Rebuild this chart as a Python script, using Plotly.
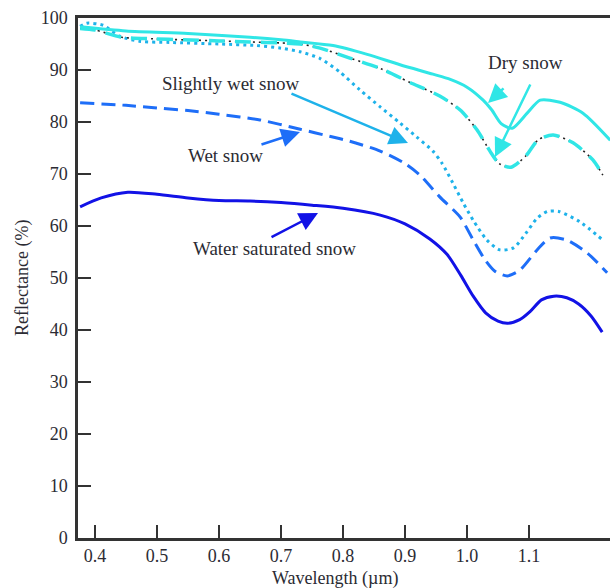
import plotly.graph_objects as go

# ---- data ----
wl_water = [0.376, 0.41, 0.453, 0.50, 0.55, 0.60, 0.65, 0.70, 0.75, 0.80, 0.86, 0.90,
            0.94, 0.968, 0.99, 1.01, 1.03, 1.05, 1.066, 1.085, 1.102, 1.12, 1.14,
            1.161, 1.18, 1.20, 1.218]
r_water = [63.7, 65.4, 66.5, 66.1, 65.4, 64.9, 64.8, 64.5, 64.0, 63.4, 62.1, 60.4,
           57.5, 54.5, 50.5, 46.5, 43.3, 41.7, 41.3, 42.0, 43.6, 45.8, 46.5,
           46.2, 45.0, 42.7, 39.6]

wl_wet = [0.376, 0.45, 0.50, 0.55, 0.60, 0.666, 0.731, 0.78, 0.811, 0.86, 0.90, 0.924,
          0.956, 0.989, 1.010, 1.029, 1.045, 1.065, 1.085, 1.113, 1.134, 1.161, 1.194, 1.226]
r_wet = [83.7, 83.2, 82.7, 82.2, 81.5, 80.4, 78.6, 77.2, 76.3, 74.4, 72.0, 69.8,
         65.6, 61.7, 57.3, 53.5, 51.3, 50.4, 51.5, 55.4, 57.7, 57.3, 54.8, 51.0]

wl_slwet = [0.376, 0.387, 0.413, 0.44, 0.473, 0.52, 0.60, 0.66, 0.70, 0.731, 0.763, 0.795,
            0.827, 0.86, 0.892, 0.919, 0.945, 0.96, 0.977, 0.994, 1.010, 1.032, 1.053,
            1.075, 1.095, 1.113, 1.13, 1.148, 1.182, 1.219]
r_slwet = [98.4, 99.0, 98.6, 96.5, 95.5, 95.3, 95.0, 94.7, 94.2, 93.5, 92.2, 89.6,
           86.2, 82.9, 79.8, 77.1, 74.4, 72.0, 68.3, 64.4, 61.1, 57.3, 55.4,
           55.8, 58.6, 61.5, 62.8, 62.8, 60.8, 57.3]

wl_dry1 = [0.376, 0.45, 0.55, 0.65, 0.70, 0.731, 0.784, 0.839, 0.892, 0.945, 0.973,
           1.0, 1.026, 1.04, 1.055, 1.073, 1.097, 1.118, 1.15, 1.187, 1.231]
r_dry1 = [98.3, 97.5, 97.0, 96.3, 95.8, 95.4, 94.7, 93.0, 91.0, 89.2, 88.2,
          86.7, 84.2, 82.3, 79.7, 78.8, 81.7, 84.2, 83.8, 81.7, 76.5]

wl_dry2 = [0.376, 0.40, 0.443, 0.494, 0.542, 0.60, 0.65, 0.70, 0.731, 0.763, 0.811,
           0.86, 0.908, 0.956, 0.989, 1.016, 1.037, 1.052, 1.071, 1.095, 1.115, 1.139,
           1.171, 1.203, 1.219]
r_dry2 = [98.0, 97.7, 96.3, 96.0, 95.8, 95.6, 95.4, 95.2, 95.0, 94.2, 92.3,
          90.3, 87.6, 85.0, 82.3, 78.5, 74.4, 72.0, 71.3, 73.5, 76.6, 77.5,
          76.0, 72.7, 69.8]

tick_vals = [0.4, 0.5, 0.6, 0.7, 0.8, 0.9, 1.0, 1.1]
tick_text = ["0.4", "0.5", "0.6", "0.7", "0.8", "0.9", "1.0", "1.1"]
y_ticks = [0, 10, 20, 30, 40, 50, 60, 70, 80, 90, 100]

labels = ["Dry snow", "Slightly wet snow", "Wet snow", "Water saturated snow"]

C_WATER = "#1212E6"
C_WET = "#1E6EF8"
C_SLWET = "#1EB2EA"
C_DRY = "#30E6E6"
TXT = "#2b2b33"
AX = "#333333"
FONT = "Liberation Serif"

SM = 0.7
fig = go.Figure()
fig.add_trace(go.Scatter(x=wl_water, y=r_water, mode="lines", name=labels[3],
                         line=dict(color=C_WATER, width=3, shape="spline", smoothing=SM)))
fig.add_trace(go.Scatter(x=wl_wet, y=r_wet, mode="lines", name=labels[2],
                         line=dict(color=C_WET, width=3, dash="14px,7px", shape="spline", smoothing=SM)))
fig.add_trace(go.Scatter(x=wl_slwet, y=r_slwet, mode="lines", name=labels[1],
                         line=dict(color=C_SLWET, width=3, dash="3px,4px", shape="spline", smoothing=SM)))
fig.add_trace(go.Scatter(x=wl_dry2, y=r_dry2, mode="lines", name=labels[0],
                         line=dict(color="#222222", width=1.6, dash="2px,4px", shape="spline", smoothing=SM)))
fig.add_trace(go.Scatter(x=wl_dry2, y=r_dry2, mode="lines", name=labels[0],
                         line=dict(color=C_DRY, width=3.5, dash="16px,10px", shape="spline", smoothing=SM)))
fig.add_trace(go.Scatter(x=wl_dry1, y=r_dry1, mode="lines", name=labels[0],
                         line=dict(color=C_DRY, width=3, shape="spline", smoothing=SM)))

# arrows: (tip x, tip y, ax, ay, colour)
arrows = [
    (1.0339, 83.65, 17, -16, C_DRY),
    (1.0452, 73.27, 36, -74, C_DRY),
    (0.9048, 75.96, -118, -50, C_SLWET),
    (0.7306, 78.08, -40, 13, C_WET),
    (0.7597, 62.50, -48, 25, C_WATER),
]
for (x, y, ax, ay, c) in arrows:
    fig.add_annotation(x=x, y=y, ax=ax, ay=ay, axref="pixel", ayref="pixel",
                       showarrow=True, arrowhead=2, arrowsize=1.5, arrowwidth=2.5,
                       arrowcolor=c, text="")

texts = [(1.095, 91.35, labels[0]), (0.619, 87.5, labels[1]),
         (0.61, 73.65, labels[2]), (0.69, 55.77, labels[3])]
for (x, y, t) in texts:
    fig.add_annotation(x=x, y=y, text=t, showarrow=False,
                       font=dict(family=FONT, size=19, color=TXT))

# axis titles
fig.add_annotation(xref="paper", yref="paper", x=0.483, y=0, yshift=-40,
                   text="Wavelength (µm)", showarrow=False, yanchor="middle",
                   font=dict(family=FONT, size=18, color=TXT))
fig.add_annotation(xref="paper", yref="paper", x=0, xshift=-56, y=0.5,
                   text="Reflectance (%)", showarrow=False, textangle=-90,
                   xanchor="center", yanchor="middle",
                   font=dict(family=FONT, size=18, color=TXT))

fig.update_layout(
    width=610, height=588,
    margin=dict(l=78, r=0, t=18, b=50),
    plot_bgcolor="white", paper_bgcolor="white",
    showlegend=False,
    xaxis=dict(range=[0.3726, 1.2306], tickvals=tick_vals, ticktext=tick_text,
               ticks="inside", ticklen=13, tickwidth=2, tickcolor=AX,
               showline=True, linewidth=2.5, linecolor=AX, mirror=True,
               showgrid=False, zeroline=False,
               tickfont=dict(family=FONT, size=18, color=TXT)),
    yaxis=dict(range=[0, 100], tickvals=y_ticks,
               ticks="inside", ticklen=13, tickwidth=2, tickcolor=AX,
               showline=True, linewidth=2.5, linecolor=AX,
               showgrid=False, zeroline=False, ticklabelstandoff=4,
               tickfont=dict(family=FONT, size=18, color=TXT)),
)

fig.write_html("out.html")
